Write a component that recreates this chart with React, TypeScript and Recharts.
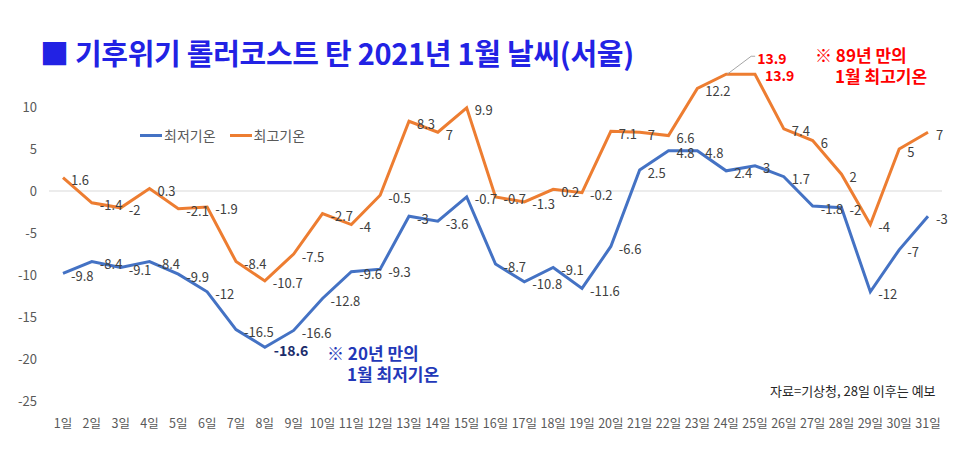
import React from "react";
import { LineChart, Line, XAxis, YAxis, ReferenceLine, LabelList } from "recharts";

const DAYS = [
  "1일", "2일", "3일", "4일", "5일", "6일", "7일", "8일", "9일", "10일",
  "11일", "12일", "13일", "14일", "15일", "16일", "17일", "18일", "19일", "20일",
  "21일", "22일", "23일", "24일", "25일", "26일", "27일", "28일", "29일", "30일", "31일",
];

// 최저기온
const LOW = [
  -9.8, -8.4, -9.1, -8.4, -9.9, -12, -16.5, -18.6, -16.6, -12.8,
  -9.6, -9.3, -3, -3.6, -0.7, -8.7, -10.8, -9.1, -11.6, -6.6,
  2.5, 4.8, 4.8, 2.4, 3, 1.7, -1.8, -2, -12, -7, -3,
];

// 최고기온
const HIGH = [
  1.6, -1.4, -2, 0.3, -2.1, -1.9, -8.4, -10.7, -7.5, -2.7,
  -4, -0.5, 8.3, 7, 9.9, -0.7, -1.3, 0.2, -0.2, 7.1,
  7, 6.6, 12.2, 13.9, 13.9, 7.4, 6, 2, -4, 5, 7,
];

const Y_TICKS = [10, 5, 0, -5, -10, -15, -20, -25];

const BLUE = "#4472C4";
const ORANGE = "#ED7D31";
const FONT = "'Noto Sans CJK KR', 'Noto Sans', sans-serif";

const data = DAYS.map((day, i) => ({ day, low: LOW[i], high: HIGH[i] }));

const labelText = { fontFamily: FONT, fontSize: 13, fill: "#404040" };

function lowLabel(props: any) {
  const { x, y, value, index } = props;
  if (index === 7) {
    return (
      <text x={x + 9} y={y + 3} dominantBaseline="central" style={{ ...labelText, fontSize: 14, fontWeight: 700, fill: "#1B2B6B" }}>
        {value}
      </text>
    );
  }
  return (
    <text x={x + 8} y={y + 2} dominantBaseline="central" style={labelText}>
      {value}
    </text>
  );
}

function highLabel(props: any) {
  const { x, y, value, index } = props;
  const red = { ...labelText, fontSize: 14, fontWeight: 700, fill: "#FF0000" };
  if (index === 23) {
    return (
      <g>
        <polyline points={`${x + 1},${y} ${x + 25},${y - 18} ${x + 29},${y - 18}`} fill="none" stroke="#A6A6A6" strokeWidth={1} />
        <text x={x + 31} y={y - 16} dominantBaseline="central" style={red}>{value}</text>
      </g>
    );
  }
  if (index === 24) {
    return (
      <text x={x + 10} y={y + 1} dominantBaseline="central" style={red}>{value}</text>
    );
  }
  return (
    <text x={x + 8} y={y + 2} dominantBaseline="central" style={labelText}>
      {value}
    </text>
  );
}

export default function App() {
  return (
    <div style={{ position: "fixed", left: 0, top: 0, width: 970, height: 449, background: "#fff", fontFamily: FONT }}>
      <LineChart width={970} height={449} data={data} margin={{ top: 65, right: 28, bottom: 18, left: 0 }}>
        <XAxis
          dataKey="day"
          axisLine={false}
          tickLine={false}
          interval={0}
          padding={{ left: 14, right: 14 }}
          tickMargin={12}
          tick={{ fill: "#595959", fontSize: 12.5, fontFamily: FONT }}
        />
        <YAxis
          width={49}
          domain={[-25, 15]}
          ticks={Y_TICKS}
          axisLine={false}
          tickLine={false}
          tickMargin={6}
          tick={{ fill: "#595959", fontSize: 13, fontFamily: FONT }}
        />
        <ReferenceLine y={0} stroke="#D9D9D9" strokeWidth={1} />
        <Line dataKey="low" stroke={BLUE} strokeWidth={3} dot={false} isAnimationActive={false}>
          <LabelList dataKey="low" content={lowLabel} />
        </Line>
        <Line dataKey="high" stroke={ORANGE} strokeWidth={3} dot={false} isAnimationActive={false}>
          <LabelList dataKey="high" content={highLabel} />
        </Line>
      </LineChart>

      <div style={{ position: "absolute", left: 40, top: 31, color: "#2222E4", fontSize: 29, fontWeight: 700, whiteSpace: "nowrap", letterSpacing: -0.3 }}>
        ■ 기후위기 롤러코스트 탄 2021년 1월 날씨(서울)
      </div>

      <div style={{ position: "absolute", left: 140, top: 125, display: "flex", alignItems: "center", fontSize: 14, color: "#595959", whiteSpace: "nowrap" }}>
        <span style={{ display: "inline-block", width: 22, height: 3, background: BLUE }} />
        <span style={{ marginLeft: 2 }}>최저기온</span>
        <span style={{ display: "inline-block", width: 22, height: 3, background: ORANGE, marginLeft: 14 }} />
        <span style={{ marginLeft: 2 }}>최고기온</span>
      </div>

      <div style={{ position: "absolute", left: 327, top: 342, color: "#2338B8", fontSize: 17, fontWeight: 700, lineHeight: "21px", whiteSpace: "nowrap" }}>
        <div>※ 20년 만의</div>
        <div style={{ paddingLeft: 20 }}>1월 최저기온</div>
      </div>

      <div style={{ position: "absolute", left: 815, top: 44, color: "#FF0000", fontSize: 17, fontWeight: 700, lineHeight: "21px", whiteSpace: "nowrap" }}>
        <div>※ 89년 만의</div>
        <div style={{ paddingLeft: 20 }}>1월 최고기온</div>
      </div>

      <div style={{ position: "absolute", left: 770, top: 381, color: "#262626", fontSize: 13, whiteSpace: "nowrap" }}>
        자료=기상청, 28일 이후는 예보
      </div>
    </div>
  );
}
